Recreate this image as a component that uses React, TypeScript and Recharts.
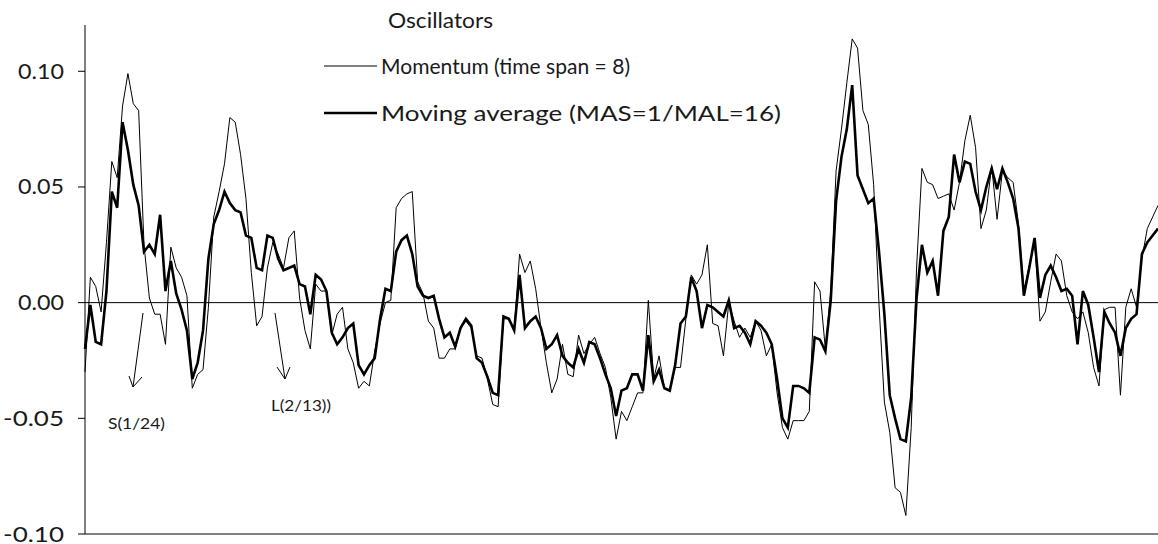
import { LineChart, Line, XAxis, YAxis, ReferenceLine, Legend } from "recharts";

// momentum (time span = 8), one value per trading step
const momentum = [
  -0.03, 0.011, 0.007, -0.004, 0.026, 0.061, 0.054, 0.085, 0.099, 0.086,
  0.083, 0.025, 0.002, -0.005, -0.005, -0.018, 0.024, 0.015, 0.011, 0.003,
  -0.037, -0.031, -0.029, -0.002, 0.037, 0.048, 0.06, 0.08, 0.078, 0.064,
  0.045, 0.013, -0.01, -0.006, 0.015, 0.026, 0.021, 0.015, 0.028, 0.031,
  0.002, -0.012, -0.02, 0.008, 0.005, 0.005, -0.014, -0.005, -0.002, -0.02,
  -0.026, -0.037, -0.034, -0.036, -0.021, -0.009, 0.0, 0.001, 0.041, 0.045,
  0.047, 0.048, 0.009, 0.004, -0.008, -0.011, -0.024, -0.024, -0.02, -0.02,
  -0.011, -0.008, -0.011, -0.023, -0.024, -0.033, -0.044, -0.045, -0.007, -0.007,
  -0.012, 0.021, 0.013, 0.018, 0.006, -0.011, -0.026, -0.039, -0.033, -0.018,
  -0.031, -0.032, -0.014, -0.022, -0.018, -0.015, -0.022, -0.028, -0.041, -0.059,
  -0.047, -0.051, -0.045, -0.039, -0.039, 0.001, -0.033, -0.023, -0.037, -0.038,
  -0.028, -0.028, -0.007, 0.012, 0.008, 0.012, 0.025, -0.009, -0.01, -0.023,
  0.0, -0.008, -0.015, -0.011, -0.015, -0.008, -0.012, -0.023, -0.018, -0.039,
  -0.054, -0.059, -0.051, -0.051, -0.051, -0.047, 0.009, 0.005, -0.02, 0.005,
  0.057, 0.075, 0.095, 0.114, 0.11, 0.083, 0.077, 0.051, -0.001, -0.043,
  -0.056, -0.08, -0.082, -0.092, -0.054, 0.015, 0.058, 0.052, 0.051, 0.045,
  0.046, 0.047, 0.04, 0.052, 0.07, 0.081, 0.067, 0.032, 0.04, 0.059,
  0.036, 0.057, 0.054, 0.052, 0.034, 0.005, 0.016, 0.026, -0.008, -0.004,
  0.009, 0.021, 0.018, 0.003, -0.004, -0.007, -0.004, -0.013, -0.028, -0.036,
  -0.003, -0.002, -0.002, -0.04, -0.002, 0.006, -0.002, 0.019, 0.032, 0.037,
  0.042,
];

// moving average (MAS=1/MAL=16)
const movingAverage = [
  -0.02, -0.001, -0.017, -0.018, 0.005, 0.048, 0.041, 0.078, 0.066, 0.051,
  0.042, 0.022, 0.025, 0.021, 0.038, 0.005, 0.018, 0.004, -0.003, -0.012,
  -0.033, -0.026, -0.012, 0.019, 0.034, 0.04, 0.048, 0.043, 0.04, 0.039,
  0.029, 0.028, 0.015, 0.014, 0.029, 0.028, 0.019, 0.014, 0.015, 0.016,
  0.008, 0.007, -0.005, 0.012, 0.01, 0.005, -0.013, -0.018, -0.015, -0.011,
  -0.009, -0.027, -0.031, -0.027, -0.024, -0.007, 0.006, 0.005, 0.022, 0.027,
  0.029, 0.021, 0.007, 0.003, 0.002, 0.003, -0.007, -0.015, -0.013, -0.019,
  -0.011, -0.007, -0.01, -0.024, -0.026, -0.032, -0.039, -0.04, -0.006, -0.007,
  -0.012, 0.012, -0.011, -0.008, -0.006, -0.011, -0.02, -0.018, -0.014, -0.023,
  -0.026, -0.028, -0.02, -0.026, -0.017, -0.018, -0.024, -0.031, -0.037, -0.049,
  -0.038, -0.037, -0.031, -0.031, -0.038, -0.014, -0.034, -0.029, -0.037, -0.038,
  -0.027, -0.009, -0.006, 0.011, 0.005, -0.011, -0.001, -0.002, -0.004, -0.006,
  0.001, -0.011, -0.01, -0.013, -0.018, -0.008, -0.01, -0.013, -0.018, -0.033,
  -0.05, -0.054, -0.036, -0.036, -0.037, -0.039, -0.015, -0.016, -0.021, 0.001,
  0.044, 0.063, 0.075, 0.094, 0.055, 0.049, 0.043, 0.045, 0.022, -0.005,
  -0.04, -0.05, -0.059, -0.06, -0.041, 0.002, 0.025, 0.013, 0.018, 0.003,
  0.031, 0.037, 0.064, 0.052, 0.061, 0.06, 0.048, 0.04, 0.05, 0.058,
  0.049, 0.058, 0.052, 0.045, 0.032, 0.003, 0.015, 0.028, 0.002, 0.012,
  0.016, 0.011, 0.005, 0.006, 0.003, -0.018, 0.005, -0.001, -0.015, -0.03,
  -0.004, -0.009, -0.013, -0.023, -0.011, -0.007, -0.005, 0.021, 0.026, 0.029,
  0.032,
];

const yTicks = [-0.1, -0.05, 0, 0.05, 0.1];

const data = momentum.map((m, i) => ({ i, momentum: m, movingAverage: movingAverage[i] }));

const FONT = "Lato, 'Open Sans', sans-serif";
const INK = "#1a1a1a";
const lineWidths: Record<string, number> = { momentum: 1, movingAverage: 2.6 };
// the original face is a wide geometric sans, so the texts are fitted to its widths
const legendTextWidths: Record<string, number> = { momentum: 249, movingAverage: 400 };

const LegendBox = ({ payload }: any) => (
  <svg width={480} height={130} fontFamily={FONT} style={{ display: "block" }}>
    <text x={64} y={28} fontSize={21} fill={INK} textLength={105} lengthAdjust="spacingAndGlyphs">
      Oscillators
    </text>
    {(payload || []).map((p: any, k: number) => {
      const y = 66 + k * 47;
      return (
        <g key={p.dataKey}>
          <line x1={0} x2={53} y1={y} y2={y} stroke="#000" strokeWidth={lineWidths[p.dataKey]} />
          <text
            x={57}
            y={y + 7.5}
            fontSize={21}
            fill={INK}
            textLength={legendTextWidths[p.dataKey]}
            lengthAdjust="spacingAndGlyphs"
          >
            {p.value}
          </text>
        </g>
      );
    })}
  </svg>
);

const YTick = ({ x, y, payload }: any) => {
  const label = Number(payload.value).toFixed(2);
  const neg = label.startsWith("-");
  return (
    <g>
      <line x1={x + 14} x2={x + 21} y1={y} y2={y} stroke="#000" strokeWidth={1} />
      <text
        x={x - 46 - (neg ? 15 : 0)}
        y={y + 7.5}
        fontSize={21}
        fontFamily={FONT}
        fill={INK}
        textLength={neg ? 61 : 46}
        lengthAdjust="spacingAndGlyphs"
      >
        {label}
      </text>
    </g>
  );
};

export default function App() {
  return (
    <div style={{ position: "absolute", left: 0, top: 0, width: 1158, height: 544, background: "#fff" }}>
      <LineChart width={1158} height={544} data={data} margin={{ top: 25, right: 0, bottom: 9, left: 0 }}>
        <XAxis
          dataKey="i"
          type="number"
          domain={[0, momentum.length - 1]}
          tick={false}
          tickLine={false}
          height={1}
          stroke="#000"
        />
        <YAxis
          domain={[-0.1, 0.12]}
          ticks={yTicks}
          interval={0}
          width={85}
          stroke="#000"
          tickLine={false}
          tickSize={7}
          tickMargin={14}
          tick={<YTick />}
        />
        <ReferenceLine y={0} stroke="#000" strokeWidth={1} />
        <Legend
          layout="vertical"
          align="center"
          verticalAlign="middle"
          content={<LegendBox />}
          wrapperStyle={{ left: 324, top: 0, width: "auto" }}
        />
        <Line
          dataKey="momentum"
          name="Momentum (time span = 8)"
          stroke="#000"
          strokeWidth={1}
          dot={false}
          isAnimationActive={false}
        />
        <Line
          dataKey="movingAverage"
          name="Moving average (MAS=1/MAL=16)"
          stroke="#000"
          strokeWidth={2.6}
          dot={false}
          isAnimationActive={false}
        />
      </LineChart>
      <svg
        width={1158}
        height={544}
        style={{ position: "absolute", left: 0, top: 0, pointerEvents: "none" }}
        fontFamily={FONT}
      >
        <g stroke="#000" strokeWidth={1} fill="none">
          <line x1={143} y1={313} x2={133} y2={387} />
          <polyline points="129,376 133,387 142,377" />
          <line x1={275} y1={313} x2={285} y2={379} />
          <polyline points="277,367 285,379 290,367" />
        </g>
        <text x={108} y={429} fontSize={16} fill={INK} textLength={57} lengthAdjust="spacingAndGlyphs">
          S(1/24)
        </text>
        <text x={271} y={411} fontSize={16} fill={INK} textLength={60} lengthAdjust="spacingAndGlyphs">
          L(2/13))
        </text>
      </svg>
    </div>
  );
}
